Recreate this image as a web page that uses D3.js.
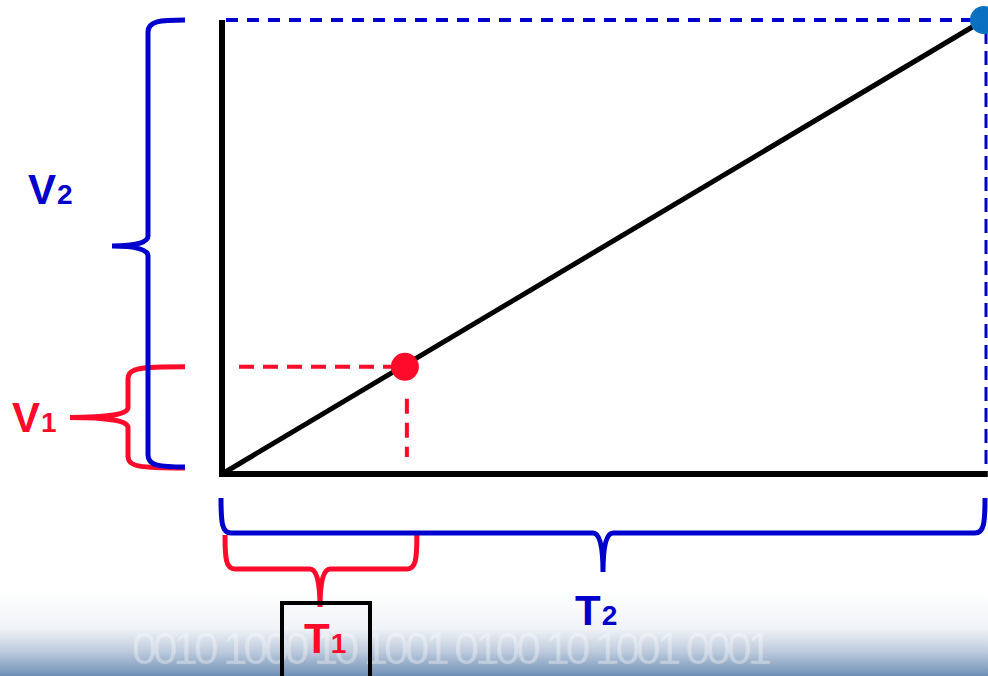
<!DOCTYPE html>
<html>
<head>
<meta charset="utf-8">
<script src="https://d3js.org/d3.v7.min.js"></script>
<style>
  body { margin: 0; background: #fff; }
  svg { display: block; font-family: "Liberation Sans", Arial, sans-serif; font-weight: bold; }
</style>
</head>
<body>
<svg id="chart" width="988" height="676"></svg>
<script>
// data: time and voltage, as fractions of the full range
var times = [0, 0.24, 1];
var volts = [0, 0.236, 1];
var pointColors = ["none", "#ff0a2a", "#0a70c0"];
var labels = [
  {name: "V", sub: "2", color: "#0000cc"},
  {name: "V", sub: "1", color: "#ff0a2a"},
  {name: "T", sub: "1", color: "#ff0a2a"},
  {name: "T", sub: "2", color: "#0000cc"}
];
var binary = "0010 1000 10 1001 0100 10 1001 0001";

var width = 988, height = 676;
var svg = d3.select("#chart");

var blue = "#0000cc", red = "#ff0a2a";

// scales
var xScale = d3.scaleLinear().domain([0, 1]).range([222, 984]);
var yScale = d3.scaleLinear().domain([0, 1]).range([474, 20]);

// background fade at the bottom
var defs = svg.append("defs");
var grad = defs.append("linearGradient")
    .attr("id", "fade")
    .attr("x1", 0).attr("y1", 0).attr("x2", 0).attr("y2", 1);
grad.append("stop").attr("offset", "0%").attr("stop-color", "#ffffff");
grad.append("stop").attr("offset", "45%").attr("stop-color", "#f0f3f7");
grad.append("stop").attr("offset", "72%").attr("stop-color", "#bccadc");
grad.append("stop").attr("offset", "100%").attr("stop-color", "#6f8fb5");

svg.append("rect")
    .attr("x", 0).attr("y", 590)
    .attr("width", width).attr("height", height - 590)
    .attr("fill", "url(#fade)");

// faint binary digits in the background
svg.append("text")
    .attr("x", 132).attr("y", 664)
    .attr("font-size", 44)
    .attr("font-weight", "normal")
    .attr("fill", "#ffffff")
    .attr("opacity", 0.35)
    .attr("textLength", 640)
    .attr("lengthAdjust", "spacing")
    .text(binary);

// dashed guides to the points
var p1 = {x: xScale(times[1]), y: yScale(volts[1])};
var p2 = {x: xScale(times[2]), y: yScale(volts[2])};

svg.append("line")
    .attr("x1", xScale(0) + 17).attr("y1", p1.y)
    .attr("x2", p1.x).attr("y2", p1.y)
    .attr("stroke", red).attr("stroke-width", 4)
    .attr("stroke-dasharray", "15,9");

svg.append("line")
    .attr("x1", p1.x + 2).attr("y1", p1.y + 32)
    .attr("x2", p1.x + 2).attr("y2", yScale(0) - 17)
    .attr("stroke", red).attr("stroke-width", 4)
    .attr("stroke-dasharray", "15,9");

svg.append("line")
    .attr("x1", xScale(0) + 4).attr("y1", p2.y)
    .attr("x2", p2.x).attr("y2", p2.y)
    .attr("stroke", blue).attr("stroke-width", 4)
    .attr("stroke-dasharray", "12,9");

svg.append("line")
    .attr("x1", p2.x + 2).attr("y1", p2.y + 10)
    .attr("x2", p2.x + 2).attr("y2", yScale(0) - 3)
    .attr("stroke", blue).attr("stroke-width", 3)
    .attr("stroke-dasharray", "14,7");

// axes
var axisPath = d3.line()
    .x(function(d) { return xScale(d[0]); })
    .y(function(d) { return yScale(d[1]); });

svg.append("path")
    .attr("d", axisPath([[0, 1], [0, 0], [1.005, 0]]))
    .attr("fill", "none")
    .attr("stroke", "#000")
    .attr("stroke-width", 6);

// v = k * t
svg.append("path")
    .attr("d", axisPath([[times[0], volts[0]], [times[2], volts[2]]]))
    .attr("fill", "none")
    .attr("stroke", "#000")
    .attr("stroke-width", 5);

svg.selectAll(".pt")
    .data(d3.range(1, times.length))
    .enter().append("circle")
    .attr("class", "pt")
    .attr("cx", function(i) { return xScale(times[i]); })
    .attr("cy", function(i) { return yScale(volts[i]); })
    .attr("r", 14)
    .attr("fill", function(i) { return pointColors[i]; });

// curly braces
function vBrace(xEnd, xs, y0, y1, xt, ym) {
  return "M" + xEnd + "," + y0 +
    " C" + (xs + 12) + "," + y0 + " " + xs + "," + (y0 + 1) + " " + xs + "," + (y0 + 12) +
    " L" + xs + "," + (ym - 10) +
    " Q" + xs + "," + ym + " " + xt + "," + ym +
    " Q" + xs + "," + ym + " " + xs + "," + (ym + 10) +
    " L" + xs + "," + (y1 - 12) +
    " C" + xs + "," + (y1 - 1) + " " + (xs + 12) + "," + y1 + " " + xEnd + "," + y1;
}

function hBrace(yEnd, ys, x0, x1, yt, xm) {
  return "M" + x0 + "," + yEnd +
    " C" + x0 + "," + (ys - 10) + " " + (x0 + 1) + "," + ys + " " + (x0 + 10) + "," + ys +
    " L" + (xm - 10) + "," + ys +
    " Q" + xm + "," + ys + " " + xm + "," + yt +
    " Q" + xm + "," + ys + " " + (xm + 10) + "," + ys +
    " L" + (x1 - 10) + "," + ys +
    " C" + (x1 - 1) + "," + ys + " " + x1 + "," + (ys - 10) + " " + x1 + "," + yEnd;
}

var y0 = yScale(0);

svg.append("path")
    .attr("d", vBrace(185, 128, p1.y, y0 - 6, 70, (p1.y + y0 - 6) / 2))
    .attr("fill", "none").attr("stroke", red).attr("stroke-width", 5);

svg.append("path")
    .attr("d", vBrace(185, 148, p2.y, y0 - 7, 112, 246))
    .attr("fill", "none").attr("stroke", blue).attr("stroke-width", 5);

svg.append("path")
    .attr("d", hBrace(535, 569, xScale(0) + 3, p1.x + 12, 607, 320))
    .attr("fill", "none").attr("stroke", red).attr("stroke-width", 5);

svg.append("path")
    .attr("d", hBrace(498, 533, xScale(0) - 1, p2.x + 1, 572, 603))
    .attr("fill", "none").attr("stroke", blue).attr("stroke-width", 5);

// box round T1
svg.append("rect")
    .attr("x", 282).attr("y", 603)
    .attr("width", 88).attr("height", 90)
    .attr("fill", "none")
    .attr("stroke", "#000")
    .attr("stroke-width", 4);

// labels
var labelPos = [[28, 204], [12, 432], [304, 653], [575, 625]];

svg.selectAll(".lab")
    .data(labels)
    .enter().append("text")
    .attr("class", "lab")
    .attr("x", function(d, i) { return labelPos[i][0]; })
    .attr("y", function(d, i) { return labelPos[i][1]; })
    .attr("fill", function(d) { return d.color; })
    .attr("font-size", 42)
    .text(function(d) { return d.name; })
    .append("tspan")
    .attr("font-size", 28)
    .attr("dx", 1)
    .text(function(d) { return d.sub; });
</script>
</body>
</html>
